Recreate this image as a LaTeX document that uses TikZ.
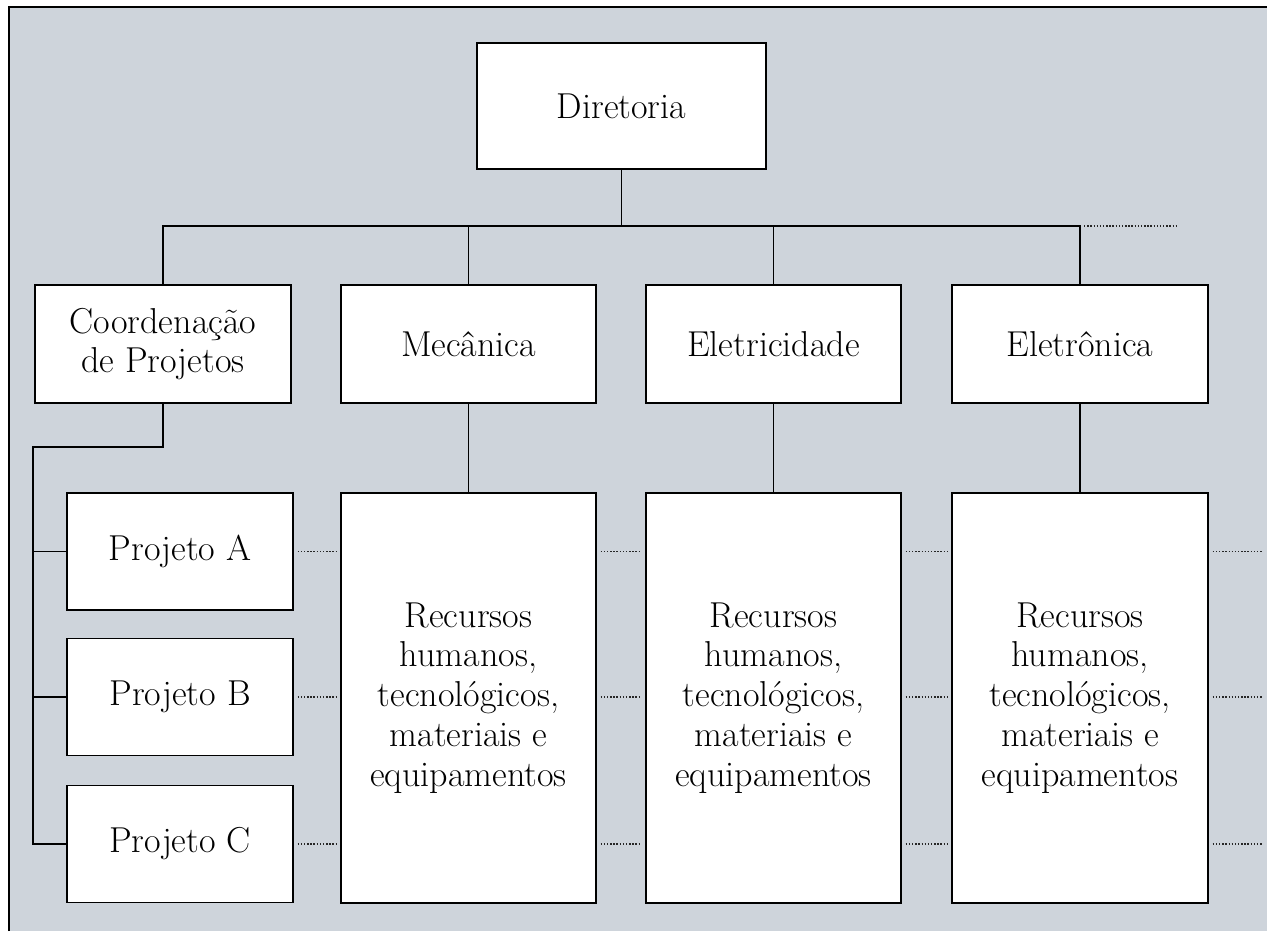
\documentclass[tikz,border=0pt]{standalone}
\usepackage{fontspec}
\usepackage{tikz}
\usetikzlibrary{positioning}

\definecolor{fundo}{RGB}{206,212,219}

\begin{document}
\begin{tikzpicture}[x=0.02cm, y=-0.02cm,
  every node/.style={draw, fill=white, line width=0.8pt, inner sep=0pt, align=center,
    font=\fontsize{20.5}{22.7}\selectfont},
  texto/.style={draw=none, fill=none},
  linha/.style={line width=0.8pt},
  pontilhado/.style={line width=0.8pt, densely dotted, black!85}]
\useasboundingbox (0,0) rectangle (1267,931);
\fill[fundo] (9,7) rectangle (1267,931);
\draw[line width=1.1pt] (9,931) -- (9,7) -- (1267,7);
\node[minimum width=5.78cm, minimum height=2.52cm] (dir) at (621.5,106) {Diretoria};
\node[minimum width=5.12cm, minimum height=2.36cm] (coord) at (163,344) {Coordenação\\de Projetos};
\node[minimum width=5.1cm, minimum height=2.36cm] (mec) at (468.5,344) {Mecânica};
\node[minimum width=5.1cm, minimum height=2.36cm] (elet) at (773.5,344) {Eletricidade};
\node[minimum width=5.12cm, minimum height=2.36cm] (eletr) at (1080,344) {Eletrônica};
\node[minimum width=4.52cm, minimum height=2.34cm] (pa) at (180,551.5) {Projeto A};
\node[minimum width=4.52cm, minimum height=2.34cm] (pb) at (180,697) {Projeto B};
\node[minimum width=4.52cm, minimum height=2.34cm] (pc) at (180,844) {Projeto C};
\node[minimum width=5.1cm, minimum height=8.2cm] (rmec) at (468.5,698) {};
\node[minimum width=5.1cm, minimum height=8.2cm] (relet) at (773.5,698) {};
\node[minimum width=5.12cm, minimum height=8.2cm] (reletr) at (1080,698) {};
\node[texto] (tmec) at (rmec.center) {Recursos\\humanos,\\tecnológicos,\\materiais e\\equipamentos};
\node[texto] (telet) at (relet.center) {Recursos\\humanos,\\tecnológicos,\\materiais e\\equipamentos};
\node[texto] (teletr) at (reletr.center) {Recursos\\humanos,\\tecnológicos,\\materiais e\\equipamentos};
\coordinate (bus) at (621.5,226);
\coordinate (fimbus) at (1178,226);
\coordinate (tronco) at (33,447);
\coordinate (borda) at (1263,0);
% linhas cheias
\draw[linha] (dir.south) -- (bus);
\draw[linha] (coord.north) |- (bus) -| (eletr.north);
\draw[linha] (mec.north) -- (mec.north |- bus);
\draw[linha] (elet.north) -- (elet.north |- bus);
\draw[linha] (mec.south) -- (rmec.north);
\draw[linha] (elet.south) -- (relet.north);
\draw[linha] (eletr.south) -- (reletr.north);
\draw[linha] (coord.south) |- (tronco) |- (pc.west);
\draw[linha] (tronco |- pa.west) -- (pa.west);
\draw[linha] (tronco |- pb.west) -- (pb.west);
% pontilhados
\draw[pontilhado] ([xshift=0.08cm]bus -| eletr.north) -- (fimbus);
\draw[pontilhado] ([xshift=0.08cm]pa.east) -- ([xshift=-0.08cm]pa.east -| rmec.west);
\draw[pontilhado] ([xshift=0.08cm]pb.east) -- ([xshift=-0.08cm]pb.east -| rmec.west);
\draw[pontilhado] ([xshift=0.08cm]pc.east) -- ([xshift=-0.08cm]pc.east -| rmec.west);
\draw[pontilhado] ([xshift=0.08cm]pa.east -| rmec.east) -- ([xshift=-0.08cm]pa.east -| relet.west);
\draw[pontilhado] ([xshift=0.08cm]pb.east -| rmec.east) -- ([xshift=-0.08cm]pb.east -| relet.west);
\draw[pontilhado] ([xshift=0.08cm]pc.east -| rmec.east) -- ([xshift=-0.08cm]pc.east -| relet.west);
\draw[pontilhado] ([xshift=0.08cm]pa.east -| relet.east) -- ([xshift=-0.08cm]pa.east -| reletr.west);
\draw[pontilhado] ([xshift=0.08cm]pb.east -| relet.east) -- ([xshift=-0.08cm]pb.east -| reletr.west);
\draw[pontilhado] ([xshift=0.08cm]pc.east -| relet.east) -- ([xshift=-0.08cm]pc.east -| reletr.west);
\draw[pontilhado] ([xshift=0.08cm]pa.east -| reletr.east) -- (pa.east -| borda);
\draw[pontilhado] ([xshift=0.08cm]pb.east -| reletr.east) -- (pb.east -| borda);
\draw[pontilhado] ([xshift=0.08cm]pc.east -| reletr.east) -- (pc.east -| borda);
\end{tikzpicture}
\end{document}
